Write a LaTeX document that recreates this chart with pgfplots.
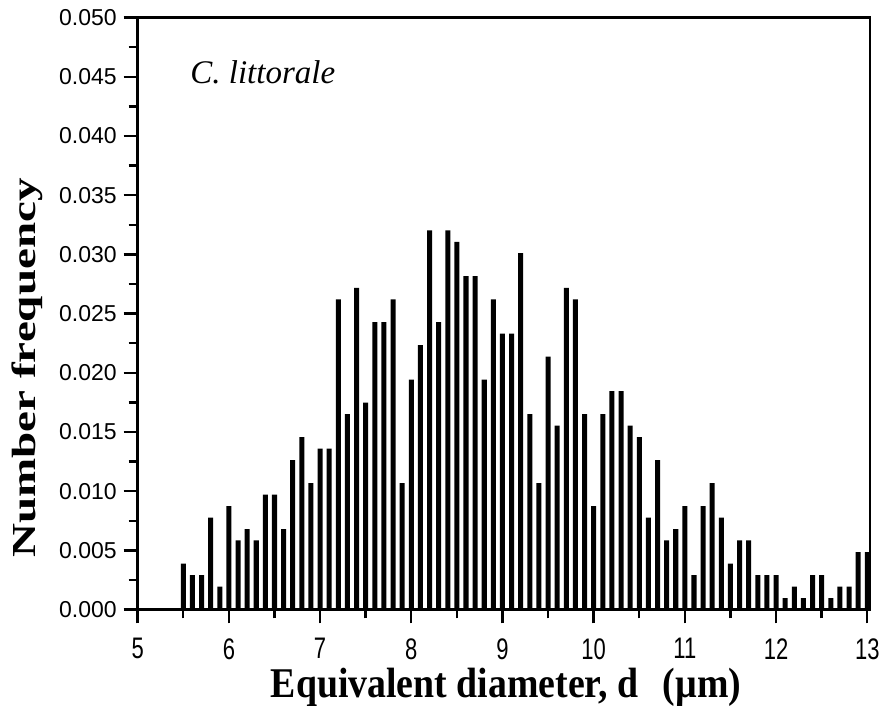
\documentclass[border=0pt]{standalone}
\usepackage{pgfplots}
\pgfplotsset{compat=1.18}
\usepackage{fontspec}
\setmainfont{Liberation Sans}
\newfontfamily\timesfont{Liberation Serif}
\usepackage{graphicx}

\begin{document}
\begin{tikzpicture}
\begin{axis}[
    at={(0,0)}, anchor=south west,
    scale only axis,
    width=366.15pt, height=295.9pt,
    xmin=5, xmax=13.03,
    ymin=0, ymax=0.05,
    xtick={5,6,...,13},
    ytick={0,0.005,...,0.05},
    minor x tick num=1,
    minor y tick num=1,
    tick pos=left,
    tick align=outside,
    major tick length=7pt,
    minor tick length=4.5pt,
    axis line style={line width=1.3pt},
    tick style={line width=1.2pt, black},
    scaled y ticks=false,
    /pgf/number format/assume math mode=true,
    yticklabel style={font=\fontsize{11.5}{13}\selectfont,
        /pgf/number format/fixed, /pgf/number format/fixed zerofill,
        /pgf/number format/precision=3},
    xticklabel={\scalebox{1}[1.35]{\pgfmathprintnumber{\tick}}},
    xticklabel style={font=\fontsize{11}{13}\selectfont, yshift=-4pt},
    clip=false,
]
\addplot[ybar, bar width=0.055, fill=black, draw=none] coordinates {
    (5.5,0.00388) (5.6,0.00291) (5.7,0.00291) (5.8,0.00777) (5.9,0.00194)
    (6.0,0.00874) (6.1,0.00583) (6.2,0.00680) (6.3,0.00583) (6.4,0.00971)
    (6.5,0.00971) (6.6,0.00680) (6.7,0.01262) (6.8,0.01456) (6.9,0.01068)
    (7.0,0.01359) (7.1,0.01359) (7.2,0.02621) (7.3,0.01650) (7.4,0.02718)
    (7.5,0.01748) (7.6,0.02427) (7.7,0.02427) (7.8,0.02621) (7.9,0.01068)
    (8.0,0.01942) (8.1,0.02233) (8.2,0.03204) (8.3,0.02427) (8.4,0.03204)
    (8.5,0.03107) (8.6,0.02816) (8.7,0.02816) (8.8,0.01942) (8.9,0.02621)
    (9.0,0.02330) (9.1,0.02330) (9.2,0.03010) (9.3,0.01650) (9.4,0.01068)
    (9.5,0.02136) (9.6,0.01553) (9.7,0.02718) (9.8,0.02621) (9.9,0.01650)
    (10.0,0.00874) (10.1,0.01650) (10.2,0.01845) (10.3,0.01845) (10.4,0.01553)
    (10.5,0.01456) (10.6,0.00777) (10.7,0.01262) (10.8,0.00583) (10.9,0.00680)
    (11.0,0.00874) (11.1,0.00291) (11.2,0.00874) (11.3,0.01068) (11.4,0.00777)
    (11.5,0.00388) (11.6,0.00583) (11.7,0.00583) (11.8,0.00291) (11.9,0.00291)
    (12.0,0.00291) (12.1,0.00097) (12.2,0.00194) (12.3,0.00097) (12.4,0.00291)
    (12.5,0.00291) (12.6,0.00097) (12.7,0.00194) (12.8,0.00194) (12.9,0.00485)
    (13.0,0.00485)
};
\end{axis}
% labels placed in pixel coordinates of the reference
\begin{scope}[x=0.5pt, y=-0.5pt, shift={(-68.85pt,304.75pt)}]
    \node[anchor=base west, inner sep=0pt] at (190,83.3)
        {\timesfont\itshape\fontsize{16.5}{18}\selectfont C. littorale};
    \node[anchor=base, inner sep=0pt, rotate=90] at (36,368)
        {\scalebox{1.4}[1]{\timesfont\bfseries\fontsize{16.8}{18}\selectfont Number frequency}};
    \node[anchor=base, inner sep=0pt] at (506,698)
        {\scalebox{1}[1.12]{\timesfont\bfseries\fontsize{18.9}{22}\selectfont Equivalent diameter, d\hspace{0.4em} (µm)}};
    \pgfresetboundingbox
    \path[use as bounding box] (0,0) rectangle (879,706);
\end{scope}
\end{tikzpicture}
\end{document}
